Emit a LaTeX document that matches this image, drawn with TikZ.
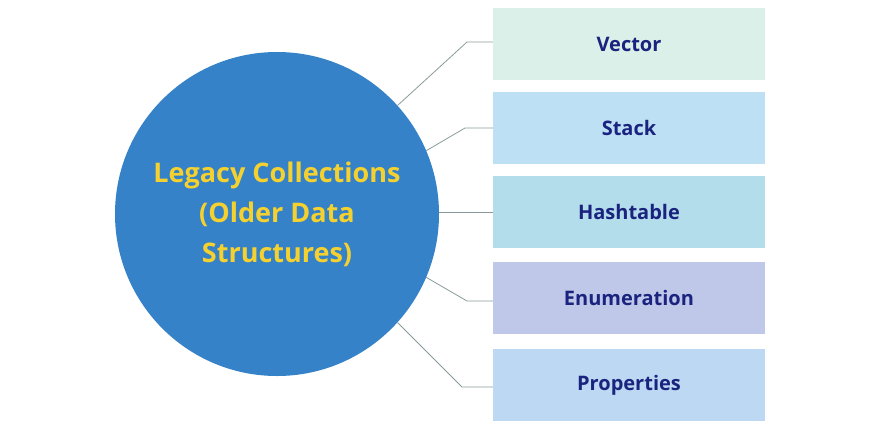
\documentclass[tikz,border=0pt]{standalone}
\usepackage{fontspec}
\setmainfont{Open Sans}
\begin{document}
\begin{tikzpicture}[x=1pt,y=-1pt,
 box/.style={draw=none,minimum width=272pt,minimum height=72pt,inner sep=0pt,font=\fontsize{20}{24}\selectfont\bfseries,text=navy},
 link/.style={draw=linkgray,line width=0.8pt}]
\definecolor{navy}{HTML}{1A237E}
\definecolor{circ}{HTML}{3582C8}
\definecolor{gold}{HTML}{F5D130}
\definecolor{linkgray}{HTML}{8A9A9A}
\definecolor{b1}{HTML}{DAF0E8}\definecolor{b2}{HTML}{BEE0F5}\definecolor{b3}{HTML}{B3DDEA}\definecolor{b4}{HTML}{C0C8EA}\definecolor{b5}{HTML}{BDD8F2}
\useasboundingbox (0,0) rectangle (883,429);
\node[circle,fill=circ,minimum size=324pt,inner sep=0pt,text=gold,align=center,font=\fontsize{27}{40}\selectfont\bfseries] (c) at (277,214) {Legacy Collections\\(Older Data\\Structures)};
\node[box,fill=b1] (v) at (629,44) {Vector};
\node[box,fill=b2] (s) at (629,128) {Stack};
\node[box,fill=b3] (h) at (629,212) {Hashtable};
\node[box,fill=b4] (e) at (629,298) {Enumeration};
\node[box,fill=b5] (p) at (629,385) {Properties};
\coordinate (k1) at (467,42);
\coordinate (k2) at (465,128);
\coordinate (k4) at (467,301);
\coordinate (k5) at (462,387);
\draw[link] (c.42) -- (k1) -- (k1 -| v.west);
\draw[link] (c.23) -- (k2) -- (k2 -| s.west);
\draw[link] (c.east |- h.west) -- (h.west);
\draw[link] (c.-23) -- (k4) -- (k4 -| e.west);
\draw[link] (c.-42) -- (k5) -- (k5 -| p.west);
\end{tikzpicture}
\end{document}
